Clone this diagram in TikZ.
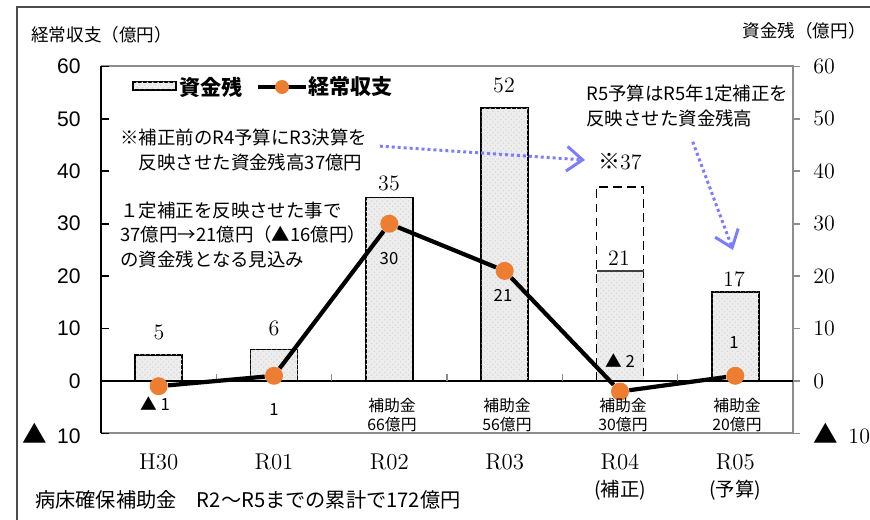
\documentclass[tikz,border=0pt]{standalone}
\usepackage{fontspec}
\newfontfamily\jpfont{Noto Sans CJK JP}
\newfontfamily\arialfont{Liberation Sans}
\usetikzlibrary{arrows.meta, patterns}

\definecolor{dotorange}{HTML}{ED7D31}
\definecolor{hintblue}{HTML}{7C7CFF}
\definecolor{axisgray}{HTML}{8C8C8C}

\begin{document}
\begin{tikzpicture}[x=0.02cm, y=-0.02cm,
       every node/.style={inner sep=0pt},
       bar/.style={draw=black, line width=1.1pt, fill=black!7,
                   postaction={pattern=crosshatch dots, pattern color=black!15}},
       ptdot/.style={circle, fill=dotorange, minimum size=0.36cm},
       trend/.style={line width=2.4pt},
       hint/.style={hintblue, line width=1.7pt, dash pattern=on 1.7pt off 1.7pt,
                    -{Straight Barb[length=9pt, width=14pt]}},
       ylab/.style={font=\arialfont\fontsize{12}{14}\selectfont, anchor=east},
       rlab/.style={font=\fontsize{12.5}{14}\selectfont, anchor=west},
       barval/.style={font=\fontsize{12.5}{14}\selectfont},
       lineval/.style={font=\jpfont\fontsize{9.5}{11}\selectfont},
       aidlab/.style={font=\jpfont\fontsize{9}{11.3}\selectfont, align=center},
       cat/.style={font=\fontsize{13}{15}\selectfont},
       note/.style={font=\jpfont\fontsize{10.5}{14.2}\selectfont, align=left, anchor=west},
       legtext/.style={font=\jpfont\bfseries\fontsize{12}{14}\selectfont, anchor=west}]

       \useasboundingbox (0,0) rectangle (870,520);

       % frame and titles
       \draw[black!70, line width=0.6pt] (17,520) -- (17,7) -- (870,7);
       \node[font=\jpfont\fontsize{10}{12}\selectfont, anchor=west] (ltitle) at (31,35) {経常収支（億円）};
       \node[font=\jpfont\fontsize{10}{12}\selectfont, anchor=east] (rtitle) at (866,31) {資金残（億円）};

       % axes
       \draw[axisgray, line width=1pt] (101,66) -- (793,66) -- (793,433) -- (101,433);
       \draw[line width=1pt] (101,66) -- (101,433);
       \foreach \v in {60,50,...,-10} {
              \draw[line width=1pt] (101,{381-5.243*\v}) -- ++(8,0);
              \draw[axisgray, line width=1pt] (793,{381-5.243*\v}) -- ++(7,0);
       }
       \foreach \v/\t in {60/60,50/50,40/40,30/30,20/20,10/10,0/0,
                         -10/{{\jpfont\fontsize{14}{14}\selectfont ▲}\hspace{6pt}10}} {
              \node[ylab] (yl\v) at (81,{381-5.243*\v}) {\t};
              \node[rlab] (yr\v) at (813,{381-5.243*\v}) {\t};
       }

       % bars
       \draw[bar] (135.2,381) rectangle (182.2,354.8);
       \draw[bar] (250.5,381) rectangle (297.5,349.5);
       \draw[bar] (365.8,381) rectangle (412.8,197.5);
       \draw[bar] (481.2,381) rectangle (528.2,108.4);
       \fill[black!7, postaction={pattern=crosshatch dots, pattern color=black!15}] (596.5,381) rectangle (643.5,270.9);
       \draw[line width=1.1pt, dash pattern=on 5pt off 3pt] (596.5,381) rectangle (643.5,187);
       \draw[black!75, line width=1.1pt] (596.5,270.9) -- (643.5,270.9);
       \draw[bar] (711.8,381) rectangle (758.8,291.9);

       % zero line
       \draw[line width=1.2pt] (101,381) -- (793,381);
       \foreach \x in {216.3,331.7,447,562.3,677.7}
              \draw[axisgray, line width=0.8pt] (\x,381) -- (\x,374);

       \node[barval] (b1) at (159,332) {5};
       \node[barval] (b2) at (274,328) {6};
       \node[barval] (b3) at (389,183) {35};
       \node[barval] (b4) at (504,85) {52};
       \node[barval] (b5) at (619,258) {21};
       \node[barval] (b5x) at (620,162) {{\jpfont ※}37};
       \node[barval] (b6) at (734,279) {17};

       % current balance line
       \node[ptdot] (p1) at (158.7,386.2) {};
       \node[ptdot] (p2) at (274,375.8) {};
       \node[ptdot] (p3) at (389.3,223.7) {};
       \node[ptdot] (p4) at (504.7,270.9) {};
       \node[ptdot] (p5) at (620,391.5) {};
       \node[ptdot] (p6) at (735.3,375.8) {};
       \draw[trend] (p1) -- (p2);
       \draw[trend] (p2) -- (p3);
       \draw[trend] (p3) -- (p4);
       \draw[trend] (p4) -- (p5);
       \draw[trend] (p5) -- (p6);

       \node[lineval] (v1) at (155,404) {▲ 1};
       \node[lineval] (v2) at (274,410) {1};
       \node[lineval] (v3) at (389,259) {30};
       \node[lineval] (v4) at (503,295) {21};
       \node[lineval] (v5) at (620,361) {▲ 2};
       \node[lineval] (v6) at (734,343) {1};

       \node[aidlab] (aid2) at (392,415) {補助金\\66億円};
       \node[aidlab] (aid3) at (507,415) {補助金\\56億円};
       \node[aidlab] (aid4) at (623,415) {補助金\\30億円};
       \node[aidlab] (aid5) at (737,415) {補助金\\20億円};

       % categories
       \node[cat] (cH30) at (158.7,462) {H30};
       \node[cat] (cR01) at (274,462) {R01};
       \node[cat] (cR02) at (389.3,462) {R02};
       \node[cat] (cR03) at (504.7,462) {R03};
       \node[cat] (cR04) at (620,462) {R04};
       \node[cat] (cR05) at (735.3,462) {R05};
       \node[font=\jpfont\fontsize{11}{13}\selectfont] (cR04b) at (620,490) {(補正)};
       \node[font=\jpfont\fontsize{11}{13}\selectfont] (cR05b) at (735.3,490) {(予算)};

       % legend
       \draw[bar] (133,82) rectangle (176,90);
       \node[legtext] (legbar) at (179,87) {資金残};
       \draw[trend] (258,87) -- (306,87);
       \node[ptdot, minimum size=0.28cm] (legdot) at (282,87) {};
       \node[legtext] (legline) at (308,87) {経常収支};

       % notes
       \node[note] (noteA) at (120,137) {※補正前のR4予算にR3決算を};
       \node[note] (noteA2) at (120,162) {　反映させた資金残高37億円};
       \coordinate (tipA) at (585,160);
       \draw[hint, shorten <=7pt] (noteA) -- (tipA);

       \node[note] (noteB) at (586,105.5) {R5予算はR5年1定補正を\\反映させた資金残高};
       \coordinate (tipB) at (733,250);
       \draw[hint, shorten <=9pt] (noteB.south) -- (tipB);

       \node[note] (noteC) at (120,235) {１定補正を反映させた事で\\37億円→21億円（▲16億円）\\の資金残となる見込み};

       \node[font=\jpfont\fontsize{11.5}{13}\selectfont, anchor=west] (total) at (35,500) {病床確保補助金　R2～R5までの累計で172億円};

\end{tikzpicture}
\end{document}
